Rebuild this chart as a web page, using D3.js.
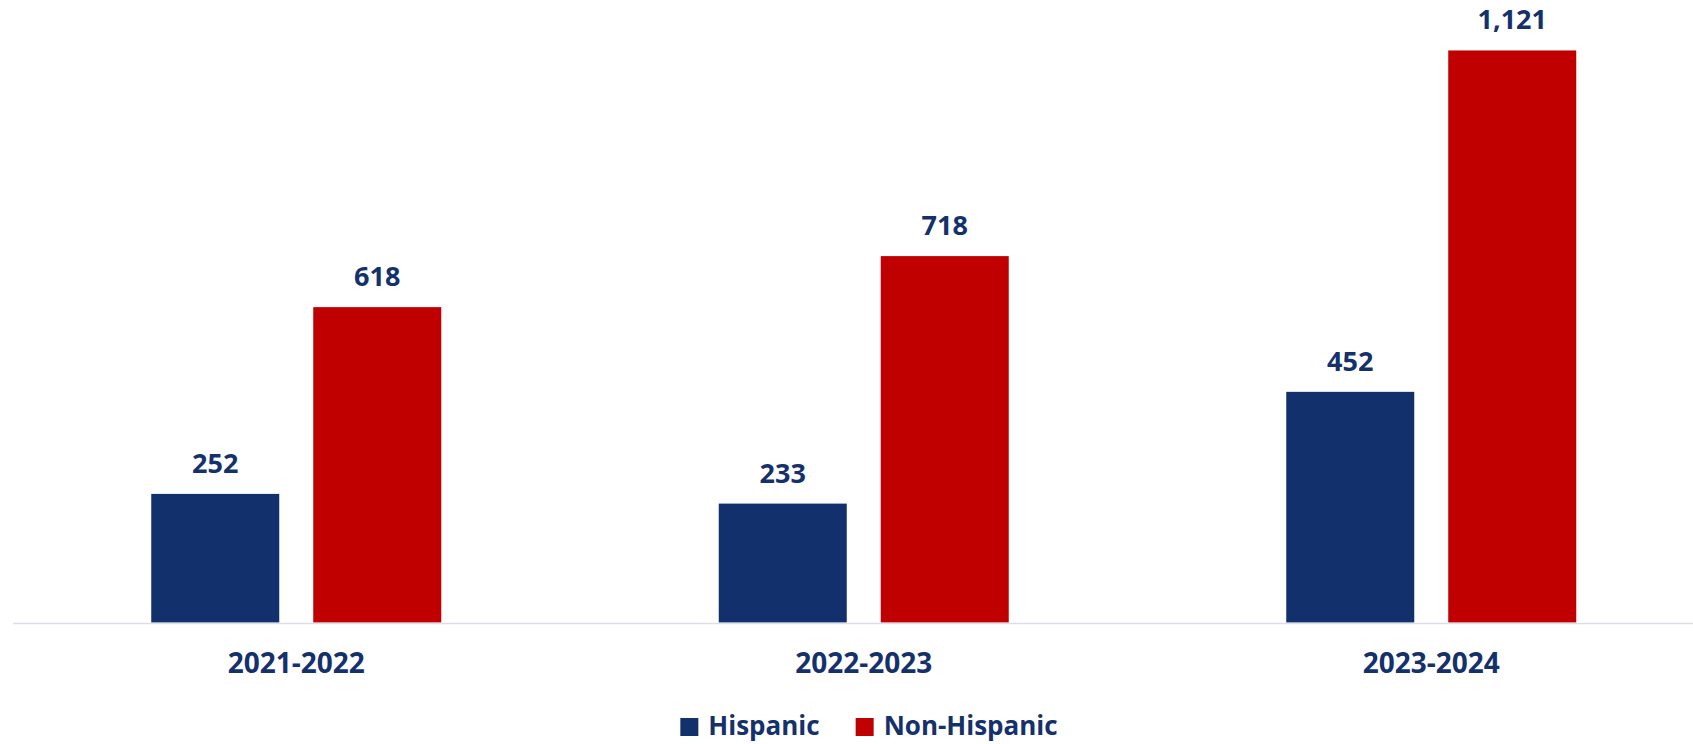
<!DOCTYPE html>
<html>
<head>
<meta charset="utf-8">
<script src="https://cdn.jsdelivr.net/npm/d3@7"></script>
<style>
  html, body { margin: 0; padding: 0; background: #fff; }
  svg { display: block; font-family: "Open Sans", sans-serif; font-weight: bold; }
</style>
</head>
<body>
<div id="chart"></div>
<script>
// Data
const years = ["2021-2022", "2022-2023", "2023-2024"];
const seriesNames = ["Hispanic", "Non-Hispanic"];
const hispanic = [252, 233, 452];
const nonHispanic = [618, 718, 1121];

const colors = { "Hispanic": "#12306b", "Non-Hispanic": "#c00000" };
const textColor = "#15316b";

const width = 1693, height = 744;
const svg = d3.select("#chart").append("svg")
  .attr("width", width)
  .attr("height", height);

// Scales
const x0 = d3.scaleBand()
  .domain(years)
  .range([12.5, 1715]);

const x1 = d3.scaleBand()
  .domain(seriesNames)
  .range([138.75, 428.75])
  .paddingInner(34 / 162);

const y = d3.scaleLinear()
  .domain([0, 1200])
  .range([622.5, 622.5 - 1200 * 0.5103]);

const rows = years.map((yr, i) => ({
  year: yr,
  values: [
    { key: "Hispanic", value: hispanic[i] },
    { key: "Non-Hispanic", value: nonHispanic[i] }
  ]
}));

// Bars
const groups = svg.append("g").selectAll("g")
  .data(rows)
  .enter().append("g")
  .attr("transform", d => `translate(${x0(d.year)},0)`);

groups.selectAll("rect")
  .data(d => d.values)
  .enter().append("rect")
  .attr("x", d => x1(d.key))
  .attr("y", d => y(d.value))
  .attr("width", x1.bandwidth())
  .attr("height", d => y(0) - y(d.value))
  .attr("fill", d => colors[d.key]);

// Value labels above bars
groups.selectAll("text")
  .data(d => d.values)
  .enter().append("text")
  .attr("x", d => x1(d.key) + x1.bandwidth() / 2)
  .attr("y", d => y(d.value) - 21)
  .attr("text-anchor", "middle")
  .attr("fill", textColor)
  .style("font-size", "27px")
  .text(d => d3.format(",")(d.value));

// Category axis
const xAxis = svg.append("g")
  .attr("transform", `translate(0,${y(0) + 0.5})`)
  .call(d3.axisBottom(x0).tickSize(0).tickPadding(0));

xAxis.select(".domain")
  .attr("stroke", "#d9dee8")
  .attr("stroke-width", 1.6);

xAxis.selectAll(".tick text")
  .attr("dy", null)
  .attr("y", 50)
  .attr("fill", textColor)
  .style("font-family", "'Open Sans', sans-serif")
  .style("font-weight", "bold")
  .style("font-size", "28px");

// Legend
const legend = svg.append("g").attr("class", "legend");
let offset = 0;
seriesNames.forEach((name, i) => {
  const item = legend.append("g").attr("transform", `translate(${offset},0)`);
  item.append("rect")
    .attr("x", 0)
    .attr("y", -17)
    .attr("width", 18)
    .attr("height", 18)
    .attr("fill", colors[name]);
  const t = item.append("text")
    .attr("x", 28)
    .attr("y", 0)
    .attr("fill", textColor)
    .style("font-size", "26px")
    .text(name);
  offset += 28 + t.node().getComputedTextLength() + 36;
});
const legendWidth = offset - 36;
legend.attr("transform", `translate(${869 - legendWidth / 2},735)`);
</script>
</body>
</html>
